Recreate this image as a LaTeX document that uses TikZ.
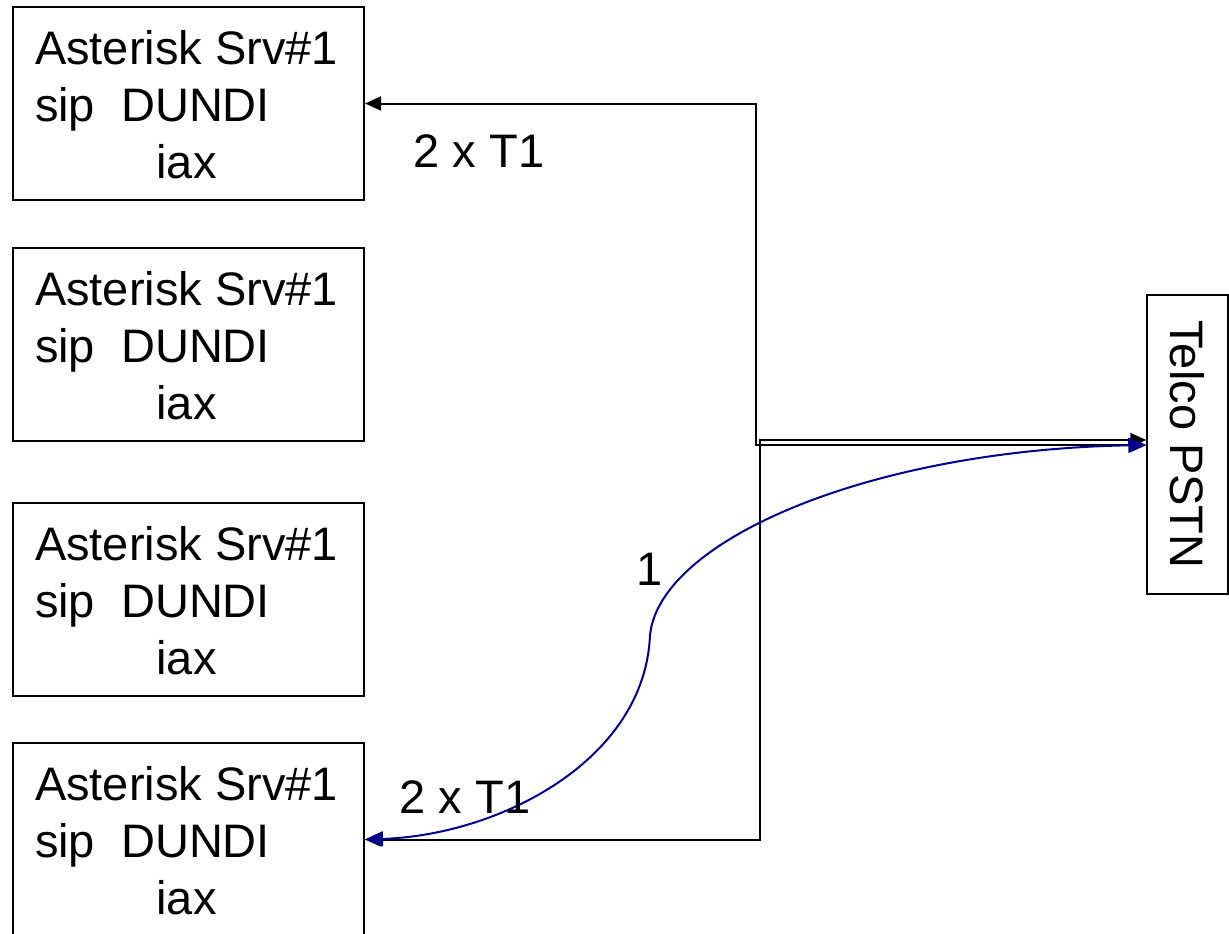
\documentclass[tikz,border=0pt]{standalone}
\usepackage{fontspec}
\setmainfont{Liberation Sans}
\usetikzlibrary{arrows.meta}
\definecolor{curveblue}{RGB}{0,0,140}
\newcommand{\srvlabel}{\raisebox{-7pt}[\height][\depth]{\begin{tabular}{@{}l@{}}Asterisk Srv\#1\\sip\ \ DUNDI\\\multicolumn{1}{@{}c@{}}{iax}\end{tabular}}\hspace*{4pt}}
\begin{document}
\begin{tikzpicture}[x=1pt,y=-1pt,
  bigfont/.style={font=\fontsize{47}{57}\selectfont},
  srvbox/.style={draw,line width=2pt,minimum width=351pt,minimum height=193pt,inner sep=0pt,bigfont},
  telcobox/.style={draw,line width=1.5pt,minimum width=81pt,minimum height=299pt,inner sep=0pt},
  lbl/.style={inner sep=0pt,bigfont},
  conn/.style={line width=2pt,{Triangle[length=16pt,width=14pt]}-{Triangle[length=16pt,width=14pt]}},
  bluecurve/.style={draw=curveblue,line width=2pt,color=curveblue,{Triangle[length=18pt,width=15pt]}-{Triangle[length=18pt,width=15pt]}}
]
\useasboundingbox (0,0) rectangle (1229,934);
\clip (0,0) rectangle (1229,934);
\node[srvbox] (box1) at (188.5,103.5) {\srvlabel};
\node[srvbox] (box2) at (188.5,344) {\srvlabel};
\node[srvbox] (box3) at (188.5,599.5) {\srvlabel};
\node[srvbox] (box4) at (188.5,839.5) {\srvlabel};
\node[telcobox] (telco) at (1187.5,444.5) {};
\node[lbl,rotate=-90] (telcotext) at (telco.center) {Telco PSTN};
\coordinate (j1) at (756,445);
\coordinate (j4) at (760,440);
\draw[conn] (box1.east) -| (j1) -- (j1 -| telco.west);
\draw[conn] (box4.east) -| (j4) -- (j4 -| telco.west);
\draw[bluecurve] (j1 -| telco.west) .. controls (870,450) and (660,540) .. (650,635) .. controls (645,760) and (500,835) .. (box4.east);
\node[lbl] (l1) at (479,151) {2 x T1};
\node[lbl] (l2) at (465,797) {2 x T1};
\node[lbl] (l3) at (650,569) {1};
\end{tikzpicture}
\end{document}
